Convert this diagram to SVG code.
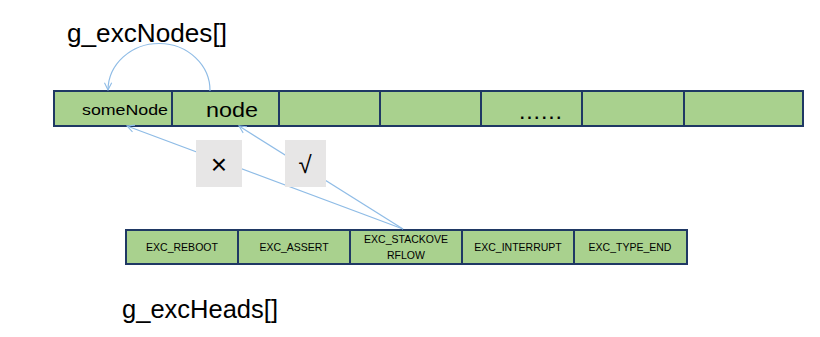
<svg xmlns="http://www.w3.org/2000/svg" width="820" height="337" viewBox="0 0 820 337">
<style>
.cell{fill:#A9D18E;stroke:#1F3864;stroke-width:2}
.t{font-family:"Liberation Sans","DejaVu Sans",sans-serif;fill:#000}
.lbl{font-size:10.5px;text-anchor:middle}
.conn{fill:none;stroke:#8FBCE6;stroke-width:1.2}
.box{fill:#E7E6E6}
</style>
<defs>
<marker id="arr" viewBox="0 0 10 10" refX="9" refY="5" markerWidth="9" markerHeight="9" markerUnits="userSpaceOnUse" orient="auto">
<path d="M1,1 L9,5 L1,9" fill="none" stroke="#8FBCE6" stroke-width="1.2"/>
</marker>
</defs>
<rect width="820" height="337" fill="#fff"/>
<text class="t" x="67" y="42" font-size="25" textLength="160" lengthAdjust="spacingAndGlyphs">g_excNodes[]</text>
<g id="nodes">
<g id="n0"><rect class="cell" x="54" y="91" width="118" height="35"/><text class="t" x="82" y="115" font-size="14" textLength="86" lengthAdjust="spacingAndGlyphs">someNode</text></g>
<g id="n1"><rect class="cell" x="172" y="91" width="107" height="35"/><text class="t" x="206" y="117" font-size="21" textLength="52" lengthAdjust="spacingAndGlyphs">node</text></g>
<g id="n2"><rect class="cell" x="279" y="91" width="101" height="35"/></g>
<g id="n3"><rect class="cell" x="380" y="91" width="101" height="35"/></g>
<g id="n4"><rect class="cell" x="481" y="91" width="101" height="35"/><text class="t" x="520" y="119" font-size="16" font-weight="bold" textLength="41" lengthAdjust="spacing">......</text></g>
<g id="n5"><rect class="cell" x="582" y="91" width="102" height="35"/></g>
<g id="n6"><rect class="cell" x="684" y="91" width="119" height="35"/></g>
</g>
<g id="heads">
<g id="h0"><rect class="cell" x="126" y="230" width="112" height="34"/><text class="t lbl" x="182" y="251">EXC_REBOOT</text></g>
<g id="h1"><rect class="cell" x="238" y="230" width="112" height="34"/><text class="t lbl" x="294" y="251">EXC_ASSERT</text></g>
<g id="h2"><rect class="cell" x="350" y="230" width="112" height="34"/><text class="t lbl" x="406" y="243">EXC_STACKOVE</text><text class="t lbl" x="406" y="259">RFLOW</text></g>
<g id="h3"><rect class="cell" x="462" y="230" width="112" height="34"/><text class="t lbl" x="518" y="251">EXC_INTERRUPT</text></g>
<g id="h4"><rect class="cell" x="574" y="230" width="113" height="34"/><text class="t lbl" x="630" y="251">EXC_TYPE_END</text></g>
</g>
<g id="connectors">
<path class="conn" d="M210,91 A51,47 0 0 0 108,90" marker-end="url(#arr)"/>
<line class="conn" x1="403" y1="229" x2="127" y2="126" marker-end="url(#arr)"/>
<line class="conn" x1="403" y1="229" x2="239" y2="126" marker-end="url(#arr)"/>
</g>
<g id="wrong"><rect class="box" x="196" y="140" width="46" height="47"/><text class="t" x="219" y="174" font-size="28" text-anchor="middle">×</text></g>
<g id="right"><rect class="box" x="285" y="140" width="41" height="47"/><text class="t" x="305" y="173" font-size="24" text-anchor="middle">√</text></g>
<text class="t" x="122" y="318" font-size="25" textLength="156" lengthAdjust="spacingAndGlyphs">g_excHeads[]</text>
</svg>
